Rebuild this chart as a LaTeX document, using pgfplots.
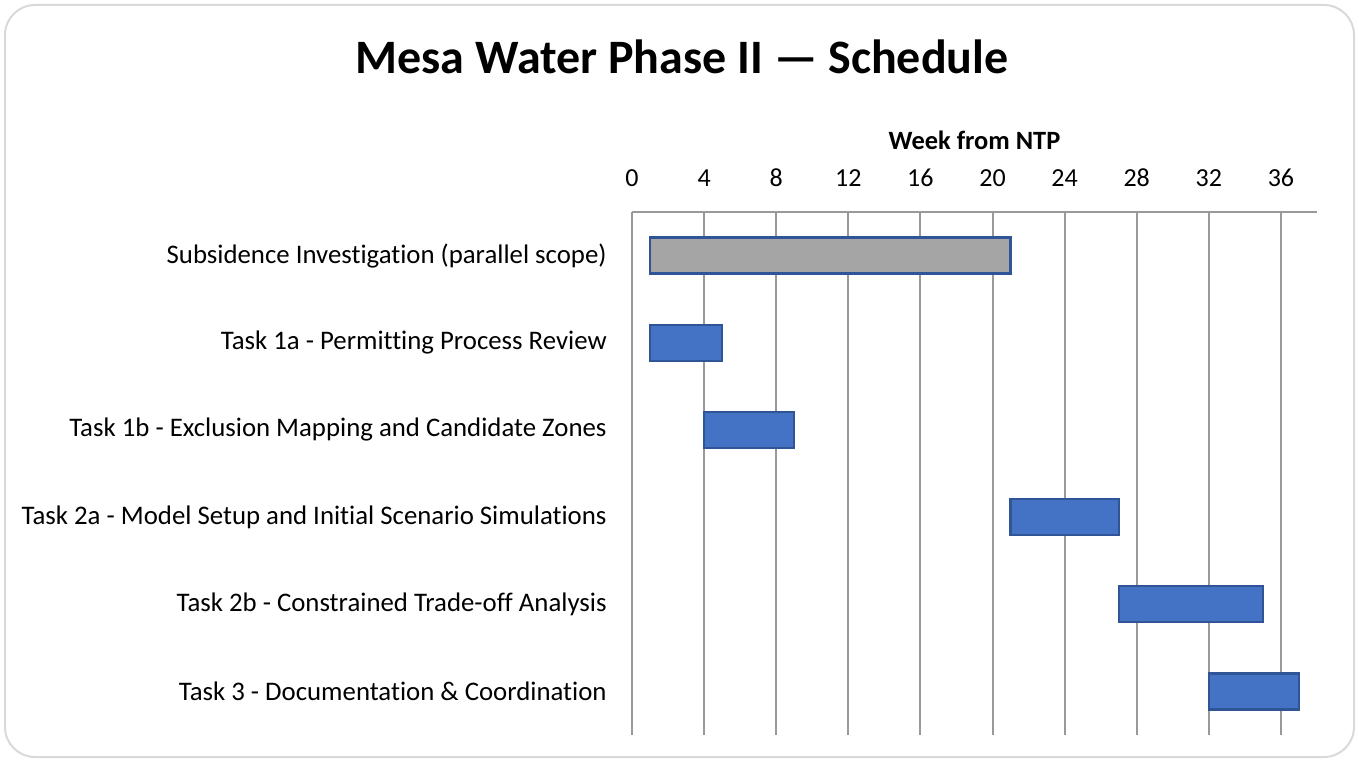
\documentclass[border=0pt]{standalone}
\usepackage{fontspec}
\setmainfont{Carlito}[Ligatures=CommonOff]
\usepackage{pgfplots}
\pgfplotsset{compat=1.18}
\definecolor{barblue}{HTML}{4472C4}
\definecolor{baredge}{HTML}{2F5597}
\definecolor{bargray}{HTML}{A5A5A5}
\definecolor{gridgray}{HTML}{999999}
\definecolor{framegray}{HTML}{D9D9D9}
\begin{document}
\begin{tikzpicture}
\useasboundingbox (0,0) rectangle (679.5pt,381pt);
\draw[framegray, line width=1pt, rounded corners=15pt] (2.5pt,2.5pt) rectangle (677pt,378.5pt);
\node[font=\fontsize{24}{28}\selectfont\bfseries] at (341pt,352.5pt) {Mesa Water Phase II — Schedule};
\begin{axis}[
  at={(316pt,13.5pt)}, anchor=south west, scale only axis,
  width=342.5pt, height=261.5pt,
  xbar stacked, bar width=18pt,
  xmin=0, xmax=38, ymin=-0.5, ymax=5.5, y dir=reverse,
  xtick={0,4,...,36}, ytick={0,...,5},
  yticklabels={Subsidence Investigation (parallel scope),
    Task 1a - Permitting Process Review,
    Task 1b - Exclusion Mapping and Candidate Zones,
    Task 2a - Model Setup and Initial Scenario Simulations,
    Task 2b - Constrained Trade-off Analysis,
    Task 3 - Documentation \& Coordination},
  axis x line=top, axis y line=left,
  x axis line style={draw=gridgray, line width=1pt, -},
  y axis line style={draw=none, -},
  major tick length=0pt,
  xmajorgrids, grid style={gridgray, line width=1pt},
  /pgf/number format/assume math mode=true,
  xticklabel style={font=\fontsize{13}{15}\selectfont, anchor=center, yshift=17pt},
  yticklabel style={font=\fontsize{13.4}{15}\selectfont, anchor=east, inner sep=0pt, xshift=-12.5pt},
  xlabel={Week from NTP},
  xlabel style={font=\fontsize{13.2}{15}\selectfont\bfseries, at={(axis description cs:0.5,1)}, anchor=center, yshift=36pt},
]
\addplot[draw=none, fill=none] coordinates {(1,0) (1,1) (4,2) (21,3) (27,4) (32,5)};
\addplot[fill=bargray, draw=baredge, line width=1.2pt] coordinates {(20,0) (0,1) (0,2) (0,3) (0,4) (0,5)};
\addplot[fill=barblue, draw=baredge, line width=1.2pt] coordinates {(0,0) (4,1) (5,2) (6,3) (8,4) (5,5)};
\end{axis}
\end{tikzpicture}
\end{document}
